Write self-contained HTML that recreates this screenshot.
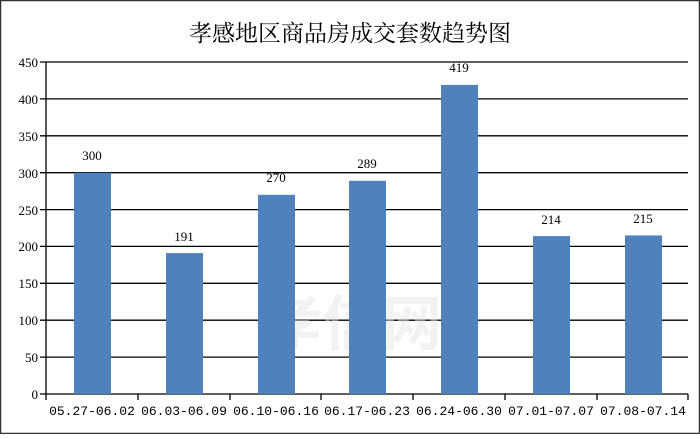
<!DOCTYPE html>
<html><head><meta charset="utf-8"><style>
body{margin:0;background:#fff}
</style></head><body>
<svg width="700" height="434" xmlns="http://www.w3.org/2000/svg" font-family="Liberation Serif, Noto Serif CJK SC, serif">
<rect x="0.5" y="0.5" width="699" height="433" fill="#fff" stroke="#333" stroke-width="1.5"/>
<text x="350" y="41" font-size="23" text-anchor="middle" font-family="Liberation Serif, Noto Serif CJK SC, serif">孝感地区商品房成交套数趋势图</text>
<g stroke="#000" stroke-width="1.3">
<line x1="40" y1="62" x2="688" y2="62"/>
<line x1="40" y1="98.9" x2="688" y2="98.9"/>
<line x1="40" y1="135.8" x2="688" y2="135.8"/>
<line x1="40" y1="172.7" x2="688" y2="172.7"/>
<line x1="40" y1="209.6" x2="688" y2="209.6"/>
<line x1="40" y1="246.4" x2="688" y2="246.4"/>
<line x1="40" y1="283.3" x2="688" y2="283.3"/>
<line x1="40" y1="320.2" x2="688" y2="320.2"/>
<line x1="40" y1="357.1" x2="688" y2="357.1"/>
<line x1="40" y1="394" x2="688" y2="394"/>
<line x1="46" y1="62" x2="46" y2="400"/>
<line x1="138" y1="394" x2="138" y2="400"/><line x1="230" y1="394" x2="230" y2="400"/><line x1="321" y1="394" x2="321" y2="400"/><line x1="413" y1="394" x2="413" y2="400"/><line x1="505" y1="394" x2="505" y2="400"/><line x1="597" y1="394" x2="597" y2="400"/><line x1="688" y1="394" x2="688" y2="400"/>
</g>
<g font-size="13" text-anchor="end">
<text x="38" y="67">450</text><text x="38" y="104">400</text><text x="38" y="141">350</text><text x="38" y="178">300</text><text x="38" y="215">250</text><text x="38" y="251">200</text><text x="38" y="288">150</text><text x="38" y="325">100</text><text x="38" y="362">50</text><text x="38" y="399">0</text>
</g>
<text x="352" y="345" font-size="60" font-weight="bold" fill="#e6e6e6" fill-opacity="0.5" text-anchor="middle" font-family="Liberation Sans, Noto Sans CJK SC, sans-serif">孝信网</text>
<g fill="#4f81bd">
<rect x="74" y="172.7" width="37" height="221.3"/>
<rect x="166" y="253.1" width="37" height="140.9"/>
<rect x="258" y="194.8" width="37" height="199.2"/>
<rect x="349" y="180.8" width="37" height="213.2"/>
<rect x="441" y="84.9" width="37" height="309.1"/>
<rect x="533" y="236.1" width="37" height="157.9"/>
<rect x="625" y="235.4" width="37" height="158.6"/>
</g>
<g font-size="13" text-anchor="middle">
<text x="92" y="160">300</text><text x="184" y="241">191</text><text x="276" y="182">270</text><text x="367" y="168">289</text><text x="459" y="72">419</text><text x="551" y="224">214</text><text x="643" y="223">215</text>
</g>
<g font-size="13" text-anchor="middle" font-family="Liberation Mono, Noto Sans CJK SC, monospace">
<text x="92" y="415">05.27-06.02</text><text x="184" y="415">06.03-06.09</text><text x="276" y="415">06.10-06.16</text><text x="367" y="415">06.17-06.23</text><text x="459" y="415">06.24-06.30</text><text x="551" y="415">07.01-07.07</text><text x="643" y="415">07.08-07.14</text>
</g>
</svg>
</body></html>
